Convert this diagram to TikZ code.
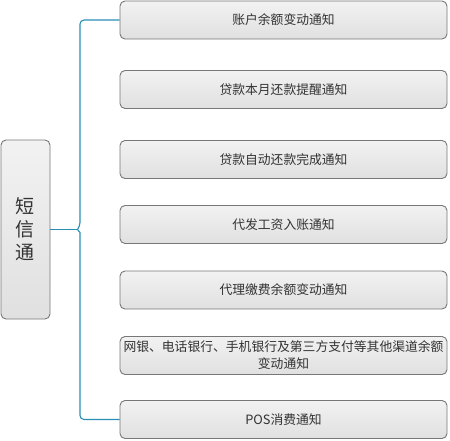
\documentclass[tikz,border=0pt]{standalone}
\usepackage{fontspec}
\setmainfont{Noto Sans CJK SC}

\tikzset{
    itembox/.style={draw=borderColour, line width=0.9pt, rounded corners=5pt,
        top color=fillTop, bottom color=fillBottom, text=textColour,
        minimum width=327pt, minimum height=38pt, inner sep=0pt,
        align=center, font=\fontsize{12.8}{17}\selectfont},
    rootbox/.style={itembox, minimum width=49pt, minimum height=179pt,
        font=\fontsize{19}{23}\selectfont},
    link/.style={draw=linkColour, line width=1.1pt}
}

\begin{document}
\begin{tikzpicture}[x=1pt, y=-1pt]
    \def\braceX{80}

    \definecolor{borderColour}{HTML}{777777}
    \definecolor{fillTop}{HTML}{F2F2F2}
    \definecolor{fillBottom}{HTML}{E0E0E0}
    \definecolor{textColour}{HTML}{333333}
    \definecolor{linkColour}{HTML}{2A8DB5}

    \useasboundingbox (0,0) rectangle (450,440);

    % Root box
    \node[rootbox] (root) at (25.5,229.5) {短\\信\\通};

    % Notification boxes
    \node[itembox] (balance) at (283.5,20) {账户余额变动通知};
    \node[itembox] (remind) at (283.5,89.5) {贷款本月还款提醒通知};
    \node[itembox] (repaid) at (283.5,159.5) {贷款自动还款完成通知};
    \node[itembox] (salary) at (283.5,224.5) {代发工资入账通知};
    \node[itembox] (payment) at (283.5,290) {代理缴费余额变动通知};
    \node[itembox, text width=327pt] (channel) at (283.5,355.5) {网银、电话银行、手机银行及第三方支付等其他渠道余额\\变动通知};
    \node[itembox] (pos) at (283.5,419.5) {POS消费通知};

    % Brace
    \coordinate (tip) at (\braceX-2.5,229.5);
    \draw[link, rounded corners=4pt] (balance.west) -| (\braceX,226.5)
        [sharp corners] -- (tip) -- (\braceX,232.5)
        [rounded corners=4pt] |- (pos.west);
    \draw[link] (root.east) -- (tip);

\end{tikzpicture}
\end{document}
